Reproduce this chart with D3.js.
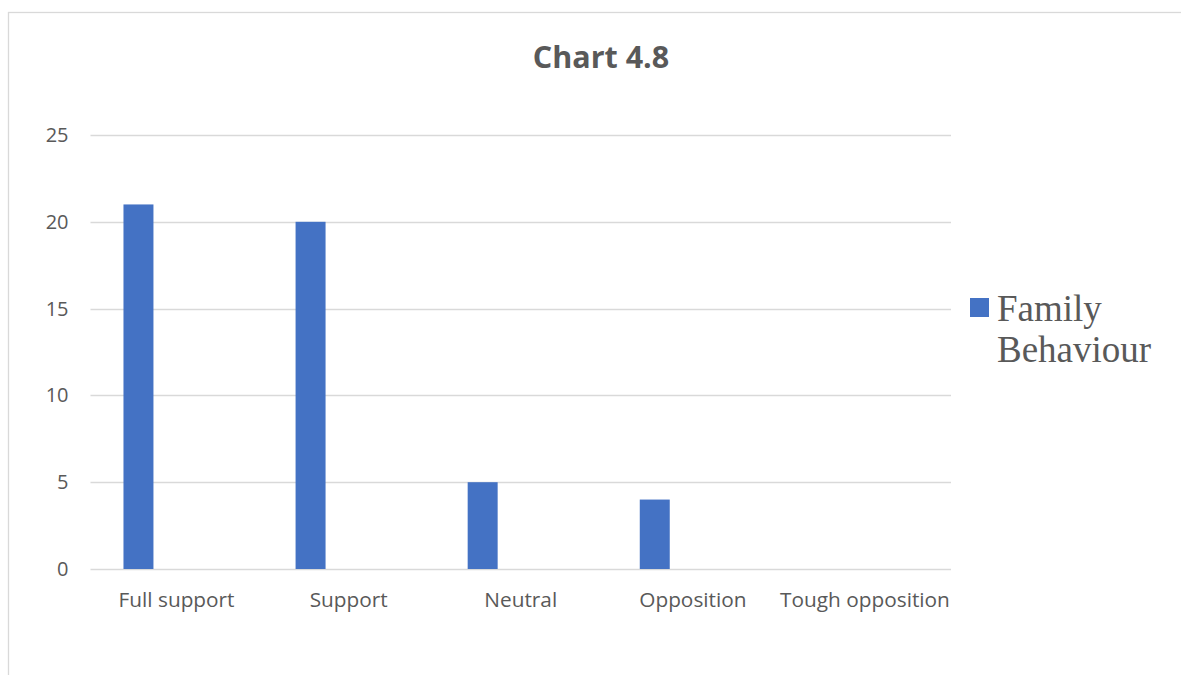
<!DOCTYPE html>
<html>
<head>
<meta charset="utf-8">
<script src="https://cdn.jsdelivr.net/npm/d3@7"></script>
<style>
  html, body { margin: 0; padding: 0; background: #ffffff; }
  svg { display: block; }
</style>
</head>
<body>
<svg id="chart" width="1181" height="675"></svg>
<script>
// Family behaviour responses
const categories = ["Full support", "Support", "Neutral", "Opposition", "Tough opposition"];
const values = [21, 20, 5, 4, 0];
const seriesName = "Family Behaviour";
const yTicks = [0, 5, 10, 15, 20, 25];
const title = "Chart 4.8";

const svg = d3.select("#chart");
const W = 1181, H = 675;
const plot = { left: 90.5, right: 951, top: 135, bottom: 569 };
const textColor = "#595959";
const gridColor = "#d9d9d9";
const barColor = "#4472c4";
const sans = "'Open Sans', 'Liberation Sans', sans-serif";

// chart area outline (runs past the page edge on the right and bottom)
svg.append("rect")
  .attr("x", 8.5).attr("y", 12.5)
  .attr("width", W + 20).attr("height", H + 20)
  .attr("fill", "#ffffff")
  .attr("stroke", gridColor).attr("stroke-width", 1.3);

const x = d3.scaleBand().domain(categories).range([plot.left, plot.right]).padding(0);
// position of the single series inside each category slot
const xs = d3.scaleBand().domain([seriesName]).range([0, x.bandwidth()])
  .paddingInner(0).paddingOuter(2.37).align(0.232);
const y = d3.scaleLinear().domain([0, 25]).range([plot.bottom, plot.top]);

// gridlines
svg.append("g")
  .selectAll("line")
  .data(yTicks)
  .join("line")
  .attr("x1", plot.left).attr("x2", plot.right)
  .attr("y1", d => Math.round(y(d)) + 0.5).attr("y2", d => Math.round(y(d)) + 0.5)
  .attr("stroke", gridColor).attr("stroke-width", 1.3);

// y axis labels
const yAxis = d3.axisLeft(y).tickValues(yTicks).tickSize(0).tickPadding(0);
svg.append("g")
  .attr("transform", `translate(${plot.left - 22},0)`)
  .call(yAxis)
  .call(g => g.select(".domain").remove())
  .call(g => g.selectAll("text")
    .attr("fill", textColor)
    .style("font-family", sans)
    .style("font-size", "20px"));

// bars
svg.append("g")
  .selectAll("rect")
  .data(values.map((v, i) => ({ cat: categories[i], v })))
  .join("rect")
  .attr("x", d => x(d.cat) + xs(seriesName))
  .attr("width", xs.bandwidth())
  .attr("y", d => y(d.v))
  .attr("height", d => y(0) - y(d.v))
  .attr("fill", barColor);

// category labels
const xAxis = d3.axisBottom(x).tickSize(0).tickPadding(0);
svg.append("g")
  .attr("transform", `translate(0,${plot.bottom + 23})`)
  .call(xAxis)
  .call(g => g.select(".domain").remove())
  .call(g => g.selectAll("text")
    .attr("fill", textColor)
    .style("font-family", sans)
    .style("font-size", "20.8px"));

// title
svg.append("text")
  .attr("x", 601).attr("y", 68)
  .attr("text-anchor", "middle")
  .attr("fill", textColor)
  .style("font-family", sans)
  .style("font-weight", "bold")
  .style("font-size", "30.5px")
  .text(title);

// legend
const lg = svg.append("g").attr("transform", "translate(970,298)");
lg.append("rect").attr("width", 19).attr("height", 19).attr("fill", barColor);
const words = seriesName.split(" ");
lg.append("text")
  .attr("x", 27).attr("y", 23)
  .attr("fill", textColor)
  .style("font-family", "'Liberation Serif', 'Times New Roman', serif")
  .style("font-size", "37px")
  .selectAll("tspan")
  .data(words)
  .join("tspan")
  .attr("x", 27)
  .attr("dy", (d, i) => i === 0 ? 0 : 41)
  .text(d => d);
</script>
</body>
</html>
